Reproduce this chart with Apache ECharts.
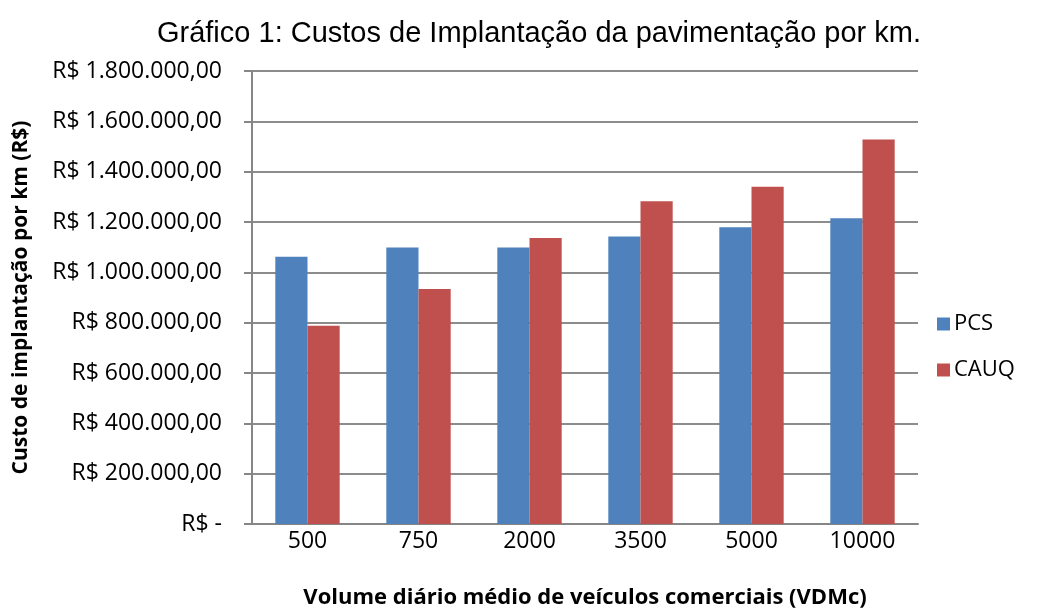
<!DOCTYPE html>
<html>
<head>
<meta charset="utf-8">
<script src="https://cdn.jsdelivr.net/npm/echarts@6/dist/echarts.min.js"></script>
<style>
  html, body { margin: 0; padding: 0; background: #fff; }
  #grafico { width: 1050px; height: 610px; }
</style>
</head>
<body>
<div id="grafico"></div>
<script>
// dados
var volumes = ['500', '750', '2000', '3500', '5000', '10000'];
var pcs = [1062000, 1099000, 1099000, 1142000, 1179000, 1215000];
var cauq = [788000, 934000, 1136000, 1282000, 1340000, 1528000];

var myChart = echarts.init(document.getElementById('grafico'));

function reais(v) {
    if (v === 0) return 'R$ -';
    return 'R$ ' + v.toLocaleString('pt-BR', { minimumFractionDigits: 2, maximumFractionDigits: 2 });
}

var fonte = '"Open Sans", sans-serif';

var option = {
    animation: false,
    title: {
        text: 'Gráfico 1: Custos de Implantação da pavimentação por km.',
        left: 534,
        textAlign: 'center',
        top: 14,
        textStyle: { fontFamily: 'Liberation Sans, Arial', fontSize: 29, fontWeight: 'normal', color: '#000' }
    },
    legend: {
        orient: 'vertical',
        left: 932,
        top: 308,
        itemGap: 24,
        itemWidth: 13,
        itemHeight: 13,
        icon: 'rect',
        textStyle: { fontFamily: fonte, fontSize: 22, color: '#000', padding: [0, 0, 0, -1] },
        data: ['PCS', 'CAUQ']
    },
    grid: { left: 252, right: 132, top: 71, bottom: 86, outerBoundsMode: 'none' },
    xAxis: {
        type: 'category',
        data: volumes,
        name: 'Volume diário médio de veículos comerciais (VDMc)',
        nameLocation: 'middle',
        nameGap: 63,
        nameTextStyle: { fontFamily: fonte, fontSize: 22, fontWeight: 'bold', color: '#000' },
        axisLine: { lineStyle: { color: '#868686', width: 2 } },
        axisTick: { show: false },
        axisLabel: { fontFamily: fonte, fontSize: 23, color: '#000', margin: 6 }
    },
    yAxis: {
        type: 'value',
        min: 0,
        max: 1800000,
        interval: 200000,
        name: 'Custo de implantação por km (R$)',
        nameLocation: 'middle',
        nameGap: 220,
        nameTextStyle: { fontFamily: fonte, fontSize: 21, fontWeight: 'bold', color: '#000' },
        axisLine: { show: true, lineStyle: { color: '#868686', width: 2 } },
        axisTick: { show: true, length: 8, lineStyle: { color: '#868686', width: 2 } },
        axisLabel: { fontFamily: fonte, fontSize: 23, color: '#000', margin: 30, formatter: reais },
        splitLine: { lineStyle: { color: '#8c8c8c', width: 2 } }
    },
    series: [
        {
            name: 'PCS',
            type: 'bar',
            data: pcs,
            barGap: '0%',
            barCategoryGap: '42%',
            itemStyle: { color: '#4f81bd' }
        },
        {
            name: 'CAUQ',
            type: 'bar',
            data: cauq,
            itemStyle: { color: '#c0504d' }
        }
    ]
};

myChart.setOption(option);
</script>
</body>
</html>
